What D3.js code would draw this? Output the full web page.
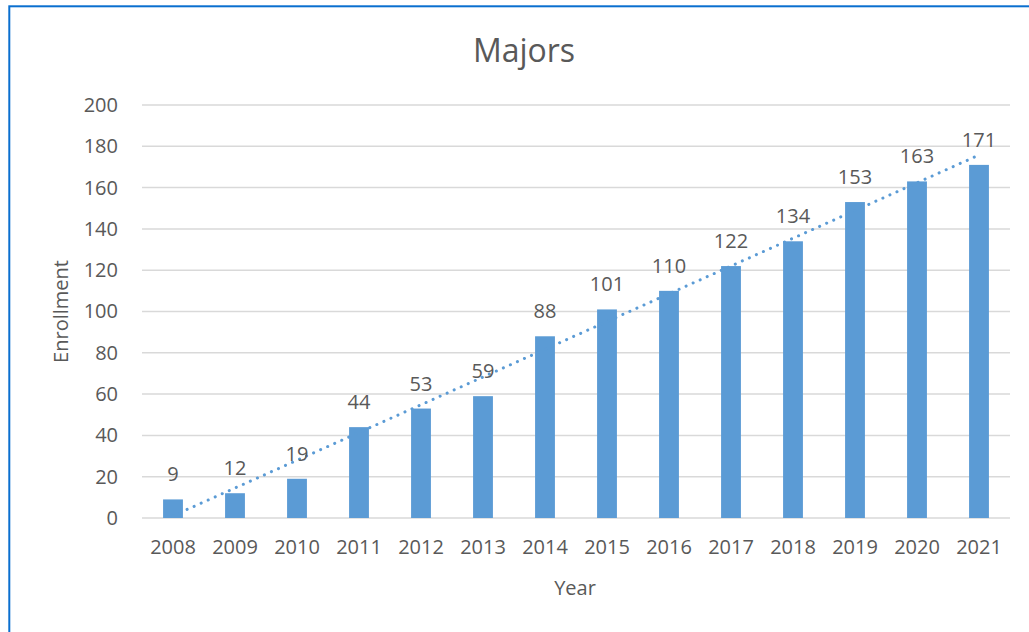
<!DOCTYPE html>
<head>
<meta charset="utf-8">
<style>
    body { margin: 0; background: #fff; }
    text { font-family: "Open Sans", sans-serif; fill: #595959; }
    .grid line { stroke: #d9d9d9; stroke-width: 1.5px; }
    .bar { fill: #5b9bd5; }
    .trend { fill: none; stroke: #5b9bd5; stroke-width: 3px; stroke-linecap: round; stroke-dasharray: 0.1 7.6; }
</style>
<title>Majors</title>
</head>
<body>
<script src="https://cdn.jsdelivr.net/npm/d3@7"></script>
<script>
    // data
    const years = ['2008', '2009', '2010', '2011', '2012', '2013', '2014',
        '2015', '2016', '2017', '2018', '2019', '2020', '2021'];
    const enrollment = [9, 12, 19, 44, 53, 59, 88, 101, 110, 122, 134, 153, 163, 171];
    const yTicks = [0, 20, 40, 60, 80, 100, 120, 140, 160, 180, 200];

    const W = 1029, H = 632;
    const margin = { top: 105, right: 19, bottom: 114, left: 142 };
    const width = W - margin.left - margin.right;
    const height = H - margin.top - margin.bottom;

    const svg = d3.select('body').append('svg')
        .attr('width', W)
        .attr('height', H);

    // chart frame (runs off the right and bottom edge)
    svg.append('rect')
        .attr('x', 9.3).attr('y', 6.3)
        .attr('width', 1030).attr('height', 640)
        .attr('fill', 'none')
        .attr('stroke', '#0a6fcf')
        .attr('stroke-width', 2);

    const x = d3.scaleBand().domain(years).range([0, width]).paddingInner(0.68).paddingOuter(0.34);
    const y = d3.scaleLinear().domain([0, 200]).range([height, 0]);

    const g = svg.append('g')
        .attr('transform', `translate(${margin.left},${margin.top})`);

    // gridlines
    g.append('g').attr('class', 'grid')
        .selectAll('line').data(yTicks).enter().append('line')
        .attr('x1', 0).attr('x2', width)
        .attr('y1', d => y(d)).attr('y2', d => y(d));

    // y axis labels
    g.append('g')
        .call(d3.axisLeft(y).tickValues(yTicks).tickSize(0).tickPadding(24))
        .call(a => a.select('.domain').remove())
        .selectAll('text')
        .style('font-family', '"Open Sans", sans-serif')
        .attr('font-size', '20px')
        .attr('fill', '#595959');

    // x axis labels
    g.append('g')
        .attr('transform', `translate(0,${height})`)
        .call(d3.axisBottom(x).tickSize(0).tickPadding(22))
        .call(a => a.select('.domain').remove())
        .selectAll('text')
        .style('font-family', '"Open Sans", sans-serif')
        .attr('font-size', '20px')
        .attr('fill', '#595959');

    const data = years.map((yr, i) => ({ year: yr, value: enrollment[i] }));

    // bars
    g.selectAll('.bar').data(data).enter().append('rect')
        .attr('class', 'bar')
        .attr('x', d => x(d.year))
        .attr('width', x.bandwidth())
        .attr('y', d => y(d.value))
        .attr('height', d => height - y(d.value));

    // linear trendline (least squares over the data)
    const n = enrollment.length;
    const mx = d3.mean(enrollment, (d, i) => i);
    const my = d3.mean(enrollment);
    const slope = d3.sum(enrollment, (d, i) => (i - mx) * (d - my)) / d3.sum(enrollment, (d, i) => (i - mx) * (i - mx));
    const icpt = my - slope * mx;
    const trend = [0, n - 1].map(i => ({ year: years[i], value: icpt + slope * i }));
    g.append('path')
        .datum(trend)
        .attr('class', 'trend')
        .attr('d', d3.line()
            .x(d => x(d.year) + x.bandwidth() / 2)
            .y(d => y(d.value)));

    // value labels
    g.selectAll('.lbl').data(data).enter().append('text')
        .attr('class', 'lbl')
        .attr('x', d => x(d.year) + x.bandwidth() / 2)
        .attr('y', d => y(d.value) - 18)
        .attr('text-anchor', 'middle')
        .attr('font-size', '20px')
        .text(d => d.value);

    // title
    svg.append('text')
        .attr('x', 524).attr('y', 62)
        .attr('text-anchor', 'middle')
        .attr('font-size', '32px')
        .text('Majors');

    // axis titles
    svg.append('text')
        .attr('x', margin.left + width / 2 - 1).attr('y', 595)
        .attr('text-anchor', 'middle')
        .attr('font-size', '20px')
        .text('Year');

    svg.append('text')
        .attr('transform', `translate(68,${margin.top + height / 2}) rotate(-90)`)
        .attr('text-anchor', 'middle')
        .attr('font-size', '20px')
        .text('Enrollment');
</script>
</body>
